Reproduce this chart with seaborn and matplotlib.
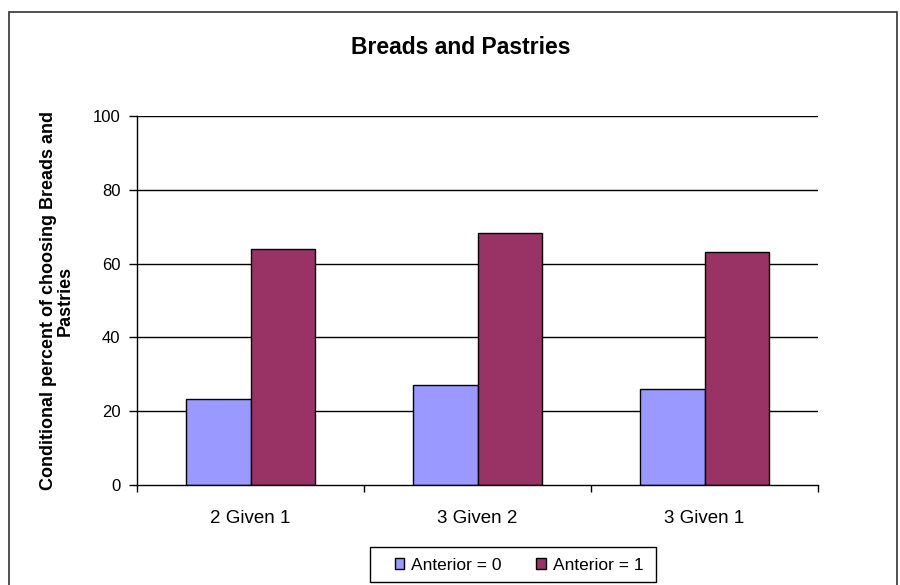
import matplotlib.pyplot as plt
import matplotlib.patches as mpatches
import numpy as np
import seaborn as sns
import pandas as pd

categories = ["2 Given 1", "3 Given 2", "3 Given 1"]
anterior_0 = [23.2, 27.1, 26.0]
anterior_1 = [64.0, 68.4, 63.2]
series_names = ["Anterior = 0", "Anterior = 1"]
colors = ["#9999FF", "#993366"]

df = pd.DataFrame({
    "category": categories * 2,
    "value": anterior_0 + anterior_1,
    "series": [series_names[0]] * 3 + [series_names[1]] * 3,
})

sns.set_style("white")
plt.rcParams["font.family"] = ["Liberation Sans", "DejaVu Sans"]
plt.rcParams["text.color"] = "black"
plt.rcParams["axes.labelcolor"] = "black"
plt.rcParams["xtick.color"] = "black"
plt.rcParams["ytick.color"] = "black"

fig = plt.figure(figsize=(9, 5.85), dpi=100)
ax = fig.add_axes([137 / 900, 1 - 485 / 585, 681 / 900, 369 / 585])

sns.barplot(data=df, x="category", y="value", hue="series", palette=colors,
            width=0.565, edgecolor="black", linewidth=1, saturation=1, ax=ax,
            gap=0)

ax.set_ylim(0, 100)
ax.set_xlim(-0.5, 2.5)
ax.set_yticks(np.arange(0, 101, 20))
for y in range(20, 101, 20):
    ax.axhline(y, color="black", linewidth=1, zorder=0)

for s in ["top", "right"]:
    ax.spines[s].set_visible(False)
for s in ["left", "bottom"]:
    ax.spines[s].set_color("black")
    ax.spines[s].set_linewidth(1)

ax.tick_params(axis="y", direction="out", length=6, width=1,
               labelsize=12, pad=6, left=True)
ax.set_xticks([-0.5, 0.5, 1.5, 2.5], minor=True)
ax.tick_params(axis="x", which="minor", direction="out", length=5, width=1,
               bottom=True)
ax.tick_params(axis="x", which="major", length=0, labelsize=13.5, pad=18)

ax.set_xlabel("")
ax.set_ylabel("Conditional percent of choosing Breads and\nPastries",
              fontsize=13, fontweight="bold", linespacing=1.0)
ax.yaxis.set_label_coords(-0.0925, 0.5)

fig.text(461 / 900, 1 - 48 / 585, "Breads and Pastries", ha="center",
         va="center", fontsize=16.5, fontweight="bold")

ax.get_legend().remove()
handles = [mpatches.Patch(facecolor=c, edgecolor="black", linewidth=1) for c in colors]
leg = fig.legend(handles, series_names, loc="center",
                 bbox_to_anchor=(519 / 900, 1 - 565 / 585), ncol=2,
                 fontsize=12.5, frameon=False, handlelength=0.55,
                 handleheight=0.55, handletextpad=0.4, columnspacing=2.0)

legend_box = mpatches.Rectangle((370 / 900, 1 - 582 / 585), 286 / 900, 35 / 585,
                                transform=fig.transFigure, fill=False,
                                edgecolor="black", linewidth=1)
fig.patches.append(legend_box)

border = mpatches.Rectangle((9 / 900, -0.05), 888 / 900, 1.05 - 12 / 585,
                            transform=fig.transFigure, fill=False,
                            edgecolor="#333333", linewidth=1.2)
fig.patches.append(border)

fig.savefig("out.png", dpi=100)
